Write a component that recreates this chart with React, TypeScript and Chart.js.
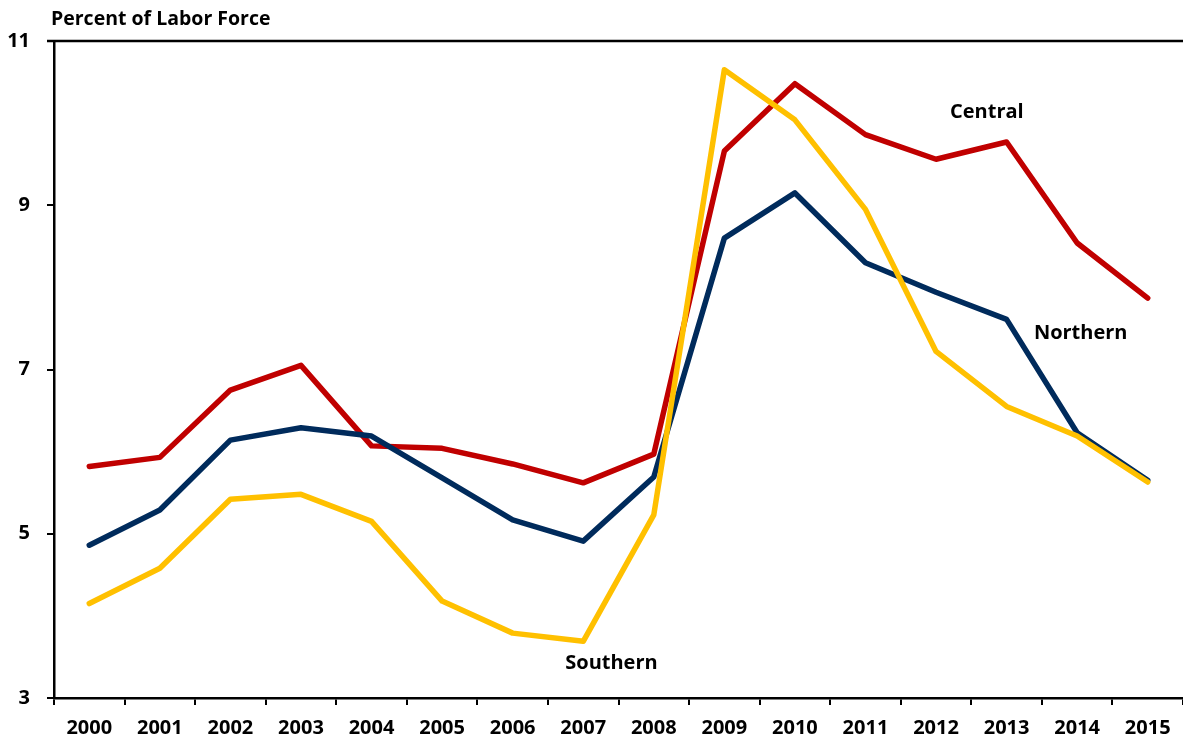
import React, { useEffect, useRef } from "react";
import { Chart, registerables } from "chart.js";

Chart.register(...registerables);

const years = ["2000","2001","2002","2003","2004","2005","2006","2007","2008","2009","2010","2011","2012","2013","2014","2015"];
const central = [5.82,5.93,6.75,7.05,6.07,6.04,5.85,5.62,5.97,9.66,10.48,9.86,9.56,9.77,8.54,7.87];
const northern = [4.86,5.29,6.14,6.29,6.19,5.68,5.17,4.91,5.69,8.60,9.15,8.30,7.94,7.61,6.23,5.65];
const southern = [4.15,4.58,5.42,5.48,5.15,4.18,3.79,3.69,5.23,10.65,10.04,8.95,7.22,6.55,6.19,5.63];
const yTicks = [3,5,7,9,11];
const titleText = "Percent of Labor Force";
// series labels: [text, category index position, value]
const seriesLabels: [string, number, number][] = [
  ["Central", 12.72, 10.13],
  ["Northern", 14.05, 7.44],
  ["Southern", 7.4, 3.42],
];

const FONT = "'Open Sans', 'Liberation Sans', sans-serif";

const annotPlugin = {
  id: "annot",
  afterDraw(chart: any) {
    const ctx = chart.ctx;
    const xs = chart.scales.x;
    const ys = chart.scales.y;
    const area = chart.chartArea;
    ctx.save();
    ctx.strokeStyle = "#000";
    ctx.lineWidth = 2.5;
    ctx.beginPath();
    const yt = ys.getPixelForValue(11);
    ctx.moveTo(area.left - 7, yt);
    ctx.lineTo(area.right, yt);
    ctx.stroke();
    ctx.fillStyle = "#000";
    ctx.font = `bold 19.5px ${FONT}`;
    ctx.textAlign = "left";
    ctx.textBaseline = "middle";
    ctx.fillText(titleText, area.left - 3, 19);
    ctx.font = `bold 20px ${FONT}`;
    ctx.textAlign = "center";
    for (const [t, xi, v] of seriesLabels) {
      const x0 = xs.getPixelForValue(Math.floor(xi));
      const x1 = xs.getPixelForValue(Math.floor(xi) + 1);
      const x = x0 + (x1 - x0) * (xi - Math.floor(xi));
      ctx.fillText(t, x, ys.getPixelForValue(v));
    }
    ctx.restore();
  },
};

export default function App() {
  const ref = useRef<HTMLCanvasElement>(null);
  useEffect(() => {
    document.body.style.margin = "0";
    const mk = (label: string, data: number[], color: string) => ({
      label, data, borderColor: color, backgroundColor: color,
      borderWidth: 5.5, pointRadius: 0, tension: 0, borderCapStyle: "round" as const, borderJoinStyle: "round" as const,
    });
    const chart = new Chart(ref.current!, {
      type: "line",
      data: {
        labels: years,
        datasets: [
          mk("Southern", southern, "#FFC000"),
          mk("Northern", northern, "#002B5C"),
          mk("Central", central, "#C00000"),
        ],
      },
      options: {
        animation: false,
        responsive: false,
        maintainAspectRatio: false,
        layout: { padding: { top: 41, right: 0, left: 0, bottom: 0 } },
        plugins: { legend: { display: false }, tooltip: { enabled: false }, title: { display: false } },
        scales: {
          x: {
            offset: true,
            grid: { offset: true, drawOnChartArea: false, drawTicks: true, tickLength: 7, color: "#000", lineWidth: 2 },
            border: { display: true, color: "#000", width: 2.5 },
            ticks: { color: "#000", font: { family: FONT, size: 20, weight: "bold" }, padding: 11, maxRotation: 0, autoSkip: false },
            afterFit: (s: any) => { s.height = 46; },
          },
          y: {
            min: 3, max: 11,
            afterBuildTicks: (s: any) => { s.ticks = yTicks.map((v) => ({ value: v })); },
            grid: { drawOnChartArea: false, drawTicks: true, tickLength: 7, color: "#000", lineWidth: 2 },
            border: { display: true, color: "#000", width: 2.5 },
            ticks: { color: "#000", font: { family: FONT, size: 20, weight: "bold" }, padding: 17 },
            afterFit: (s: any) => { s.width = 54; },
          },
        },
      },
      plugins: [annotPlugin],
    });
    return () => chart.destroy();
  }, []);
  return (
    <div style={{ position: "fixed", left: 0, top: 0, width: 1183, height: 744 }}>
      <canvas ref={ref} width={1183} height={744} style={{ width: 1183, height: 744 }} />
    </div>
  );
}
